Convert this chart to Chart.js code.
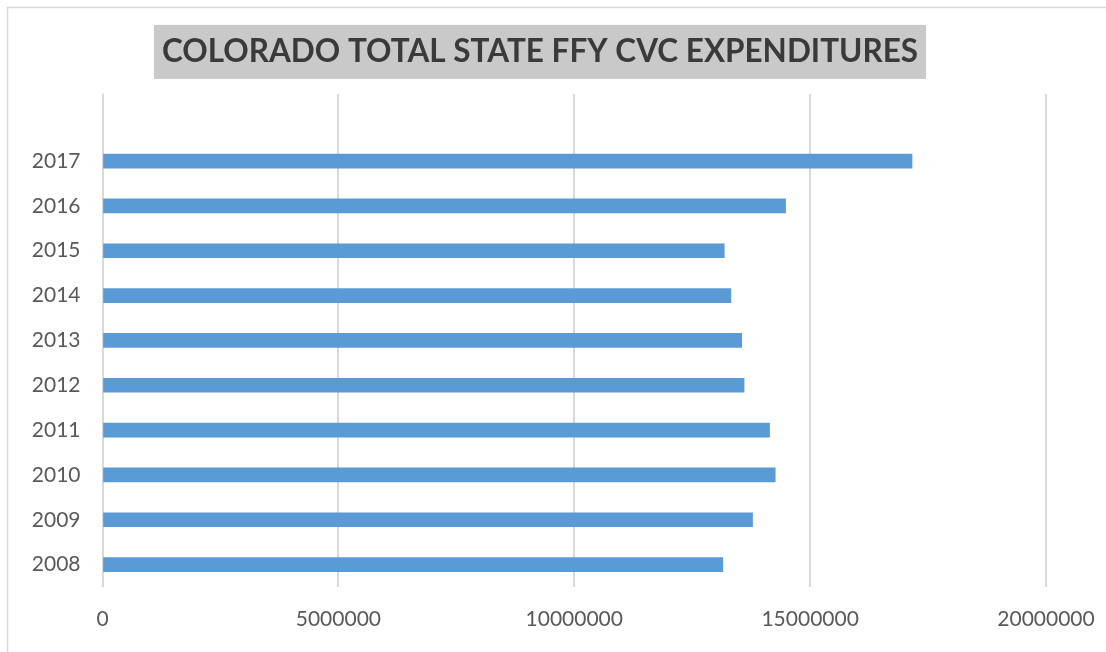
<!DOCTYPE html>
<html>
<head>
<meta charset="utf-8">
<script src="https://cdn.jsdelivr.net/npm/chart.js@4/dist/chart.umd.min.js"></script>
<style>
  body { margin: 0; background: #fff; }
  #wrap { width: 1106px; height: 652px; }
</style>
</head>
<body>
<div id="wrap"><canvas id="grafico" width="1106" height="652"></canvas></div>
<script>
// dados
var anos = ['2008', '2009', '2010', '2011', '2012', '2013', '2014', '2015', '2016', '2017'];
var gastos = [13150000, 13780000, 14260000, 14140000, 13600000, 13550000, 13320000, 13180000, 14480000, 17160000];
var ticksX = [0, 5000000, 10000000, 15000000, 20000000];
var titulo = 'COLORADO TOTAL STATE FFY CVC EXPENDITURES';

// linha vazia no topo, como no original
var labels = anos.concat(['']);
var valores = gastos.concat([null]);

var fundoTitulo = {
    id: 'fundoTitulo',
    afterLayout(chart) {
        // titulo um pouco deslocado para a direita
        chart.titleBlock.left += 6;
        chart.titleBlock.right += 6;
    },
    beforeDraw(chart) {
        const ctx = chart.ctx;
        ctx.save();
        // moldura da area do grafico
        ctx.strokeStyle = '#d9d9d9';
        ctx.lineWidth = 1.5;
        ctx.strokeRect(7.5, 7.5, 1200, 700);
        // caixa cinza atras do titulo
        const tb = chart.titleBlock;
        const opts = chart.options.plugins.title;
        ctx.font = 'bold ' + opts.font.size + 'px ' + opts.font.family;
        const w = ctx.measureText(titulo).width;
        const cx = (tb.left + tb.right) / 2;
        const cy = tb.top + opts.padding.top + opts.font.size * 1.2 / 2;
        ctx.fillStyle = '#c9c9c9';
        ctx.fillRect(cx - w / 2 - 8, cy - 27, w + 16, 54);
        ctx.restore();
    }
};

new Chart(document.getElementById('grafico'), {
    type: 'bar',
    data: {
        labels: labels,
        datasets: [{
            data: valores,
            backgroundColor: '#5b9bd5',
            barThickness: 14
        }]
    },
    options: {
        indexAxis: 'y',
        responsive: false,
        animation: false,
        layout: { padding: { left: 22, right: 60, top: 8, bottom: 0 } },
        plugins: {
            legend: { display: false },
            tooltip: { enabled: false },
            title: {
                display: true,
                text: titulo,
                color: '#3a3a3a',
                font: { family: 'Lato', size: 31.5, weight: 'bold' },
                padding: { top: 25, bottom: 23 }
            }
        },
        scales: {
            x: {
                min: 0,
                max: 20000000,
                afterBuildTicks(axis) { axis.ticks = ticksX.map(v => ({ value: v })); },
                afterFit(axis) {
                    axis.height = 65;
                    axis.paddingLeft = 0;
                    axis.paddingRight = 0;
                },
                border: { display: false },
                grid: { color: '#d9d9d9', lineWidth: 2, drawTicks: false },
                ticks: {
                    color: '#595959',
                    font: { family: 'Lato', size: 21 },
                    padding: 20,
                    maxRotation: 0,
                    callback: v => String(v)
                }
            },
            y: {
                reverse: true,
                afterFit(axis) { axis.width = 80.5; },
                border: { display: false },
                grid: { display: false, drawTicks: false },
                ticks: {
                    color: '#595959',
                    font: { family: 'Lato', size: 21 },
                    padding: 22,
                    crossAlign: 'near'
                }
            }
        }
    },
    plugins: [fundoTitulo]
});
</script>
</body>
</html>
